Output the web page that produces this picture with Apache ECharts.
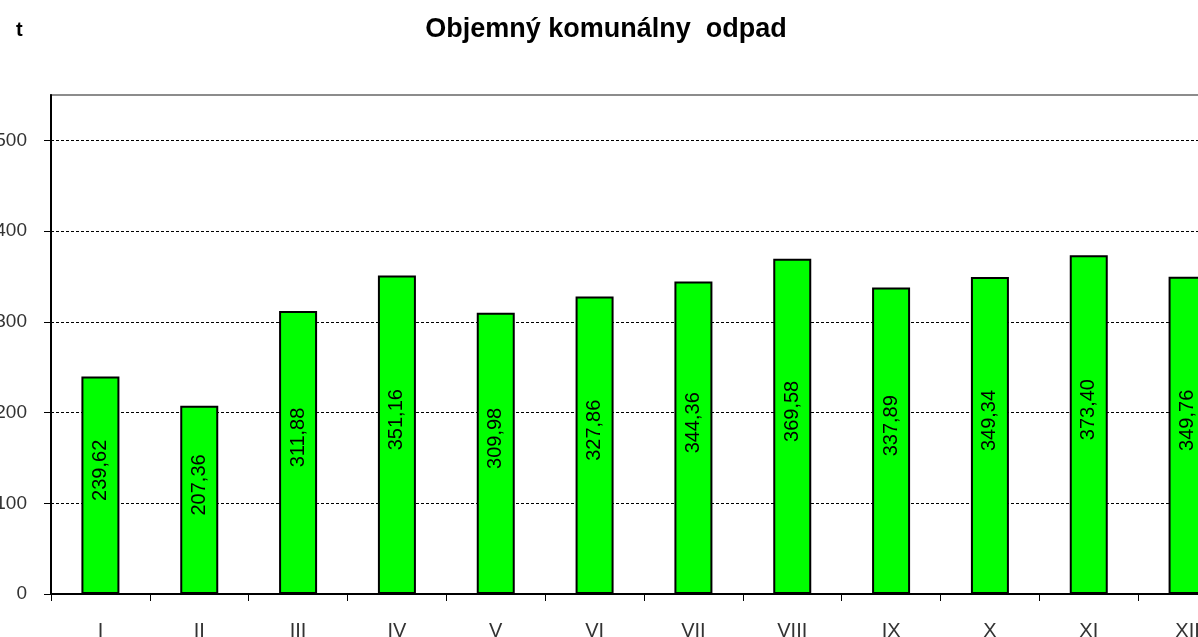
<!DOCTYPE html>
<html>
<head>
<meta charset="utf-8">
<title>Objemný komunálny odpad</title>
<script src="https://cdn.jsdelivr.net/npm/echarts@6/dist/echarts.min.js"></script>
<style>
  html, body { margin: 0; padding: 0; background: #fff; }
  #chart { width: 1198px; height: 637px; }
</style>
</head>
<body>
<div id="chart"></div>
<script>
// mesiace (rímske číslice) a objem odpadu v tonách
const months = ['I', 'II', 'III', 'IV', 'V', 'VI', 'VII', 'VIII', 'IX', 'X', 'XI', 'XII'];
const tons = [239.62, 207.36, 311.88, 351.16, 309.98, 327.86, 344.36, 369.58, 337.89, 349.34, 373.40, 349.76];
const yTicks = [0, 100, 200, 300, 400, 500];

const chart = echarts.init(document.getElementById('chart'));

const font = '"Liberation Sans", Arial, sans-serif';

chart.setOption({
  animation: false,
  title: [
    {
      text: 'Objemný komunálny  odpad',
      left: 601,
      textAlign: 'center',
      top: 11,
      textStyle: { fontFamily: font, fontSize: 27, fontWeight: 'bold', color: '#000' }
    },
    {
      text: 't',
      left: 11,
      top: 15,
      textStyle: { fontFamily: font, fontSize: 20, fontWeight: 'bold', color: '#000' }
    }
  ],
  grid: {
    left: 51,
    top: 95,
    bottom: 43,
    width: 1186,
    containLabel: false,
    outerBoundsMode: 'none',
    show: true,
    borderColor: '#8c8c8c',
    borderWidth: 2
  },
  xAxis: {
    type: 'category',
    data: months,
    axisLine: { lineStyle: { color: '#000', width: 2 } },
    axisTick: { show: true, length: 7, lineStyle: { color: '#000', width: 1 } },
    axisLabel: { margin: 27, fontFamily: font, fontSize: 20, color: '#333' },
    splitLine: { show: false }
  },
  yAxis: {
    type: 'value',
    min: 0,
    max: 550,
    interval: 100,
    axisLine: { show: true, lineStyle: { color: '#000', width: 2 } },
    axisTick: { show: true, length: 7, customValues: yTicks, lineStyle: { color: '#000', width: 1 } },
    axisLabel: { margin: 24, customValues: yTicks, fontFamily: font, fontSize: 19, color: '#333' },
    splitLine: {
      show: true,
      showMinLine: false,
      lineStyle: { color: '#000', width: 1, type: [3, 2] }
    }
  },
  series: [
    {
      type: 'bar',
      data: tons,
      barWidth: 38,
      itemStyle: { color: '#00ff00', borderColor: '#000', borderWidth: 2 },
      label: {
        show: true,
        position: 'inside',
        rotate: 90,
        offset: [15, 0],
        fontFamily: font,
        fontSize: 20,
        color: '#000',
        formatter: p => p.value.toFixed(2).replace('.', ',')
      }
    }
  ]
});
</script>
</body>
</html>
